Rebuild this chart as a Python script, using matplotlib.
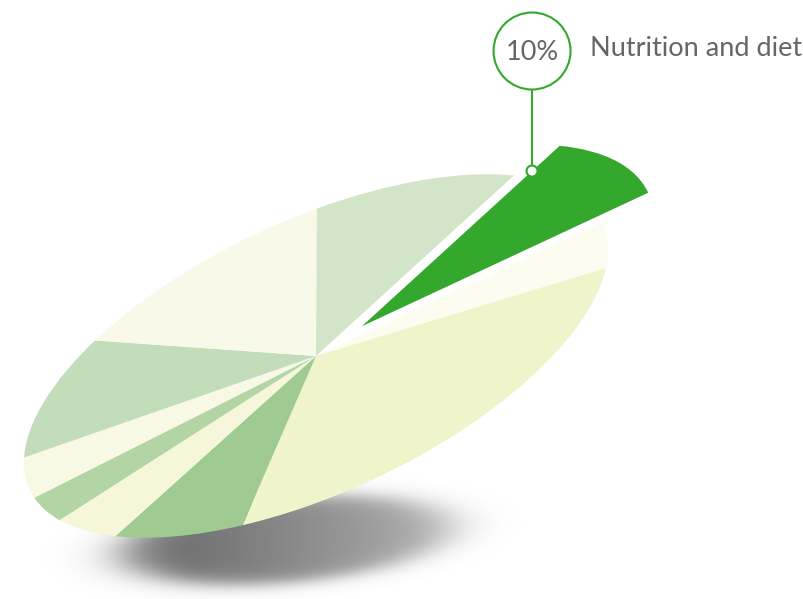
import numpy as np
import matplotlib.pyplot as plt
from matplotlib.patches import Circle
from matplotlib.transforms import Affine2D

# pie data (percent), clockwise starting from the highlighted slice
labels = ["Nutrition and diet", "s2", "s3", "s4", "s5", "s6", "s7", "s8", "s9", "s10"]
shares = [10, 5.1, 27.1, 8.0, 5.0, 3.7, 4.8, 10.8, 13.7, 11.8]
colors = ["#33a82c", "#fcfcf1", "#f0f4ca", "#9fcb93", "#f5f6da",
          "#b3d5a6", "#f7f9e4", "#c3ddba", "#f8f9e9", "#d3e5c9"]
explode = [0.18, 0, 0, 0, 0, 0, 0, 0, 0, 0]
highlight = 0

GREEN = "#33a82c"
GREY = "#666666"

fig = plt.figure(figsize=(8.04, 5.99), dpi=100)
ax = fig.add_axes([0, 0, 1, 1])

# tilted disc: unit circle -> rotated ellipse in pixel space
cx, cy = 316, 356
a_len, b_len, tilt = 316, 136, np.deg2rad(25)
u = np.array([np.cos(tilt), -np.sin(tilt)])
w = np.array([-np.sin(tilt), -np.cos(tilt)])
mat = np.array([[a_len * u[0], b_len * w[0], cx],
                [a_len * u[1], b_len * w[1], cy],
                [0, 0, 1]])
disc = Affine2D(mat)

# soft shadow underneath
yy, xx = np.mgrid[0:599, 0:804] + 0.5
sx, sy, sa, sb = 288, 540, 185, 48
d = np.sqrt(((xx - sx) / sa) ** 2 + ((yy - sy + (xx - sx) * 0.08) / sb) ** 2)
alpha = 0.56 / (1 + np.exp((d - 0.88) / 0.09))
alpha *= np.clip(1 - 0.45 * (xx - 190) / 270, 0.5, 1)
shadow = np.zeros((599, 804, 4))
shadow[..., 3] = alpha
ax.imshow(shadow, extent=(0, 804, 599, 0), origin="upper", zorder=1,
          interpolation="bilinear")

wedges, _ = ax.pie(shares, colors=colors, explode=explode, startangle=36,
                   counterclock=False, wedgeprops=dict(linewidth=0))
for wd in wedges:
    wd.set_transform(disc + ax.transData)
    wd.set_zorder(2)

# callout for the highlighted slice
theta = np.deg2rad(36)
ex = explode[highlight]
mid = np.deg2rad(36 - shares[highlight] * 3.6 / 2)
px = ex * np.cos(mid) + 0.86 * np.cos(theta)
py = ex * np.sin(mid) + 0.86 * np.sin(theta)
ax_x, ax_y = disc.transform((px, py))

lbl_y = 51
ax.plot([ax_x, ax_x], [ax_y - 5, lbl_y + 38.5], color=GREEN, lw=1.5, zorder=3)
ax.add_patch(Circle((ax_x, ax_y), 5.5, fc="white", ec=GREEN, lw=1.5, zorder=4))
ax.add_patch(Circle((ax_x, lbl_y), 38.5, fc="white", ec=GREEN, lw=1.5, zorder=4))
ax.text(ax_x, lbl_y + 1, f"{shares[highlight]:.0f}%", ha="center", va="center",
        fontsize=19.5, color=GREY, family="Lato", zorder=5)
ax.text(590, lbl_y - 2, labels[highlight], ha="left", va="center",
        fontsize=19.5, color=GREY, family="Lato", zorder=5)

ax.set_aspect("auto")
ax.set_xlim(0, 804)
ax.set_ylim(599, 0)
ax.axis("off")

fig.savefig("out.png", dpi=100)
